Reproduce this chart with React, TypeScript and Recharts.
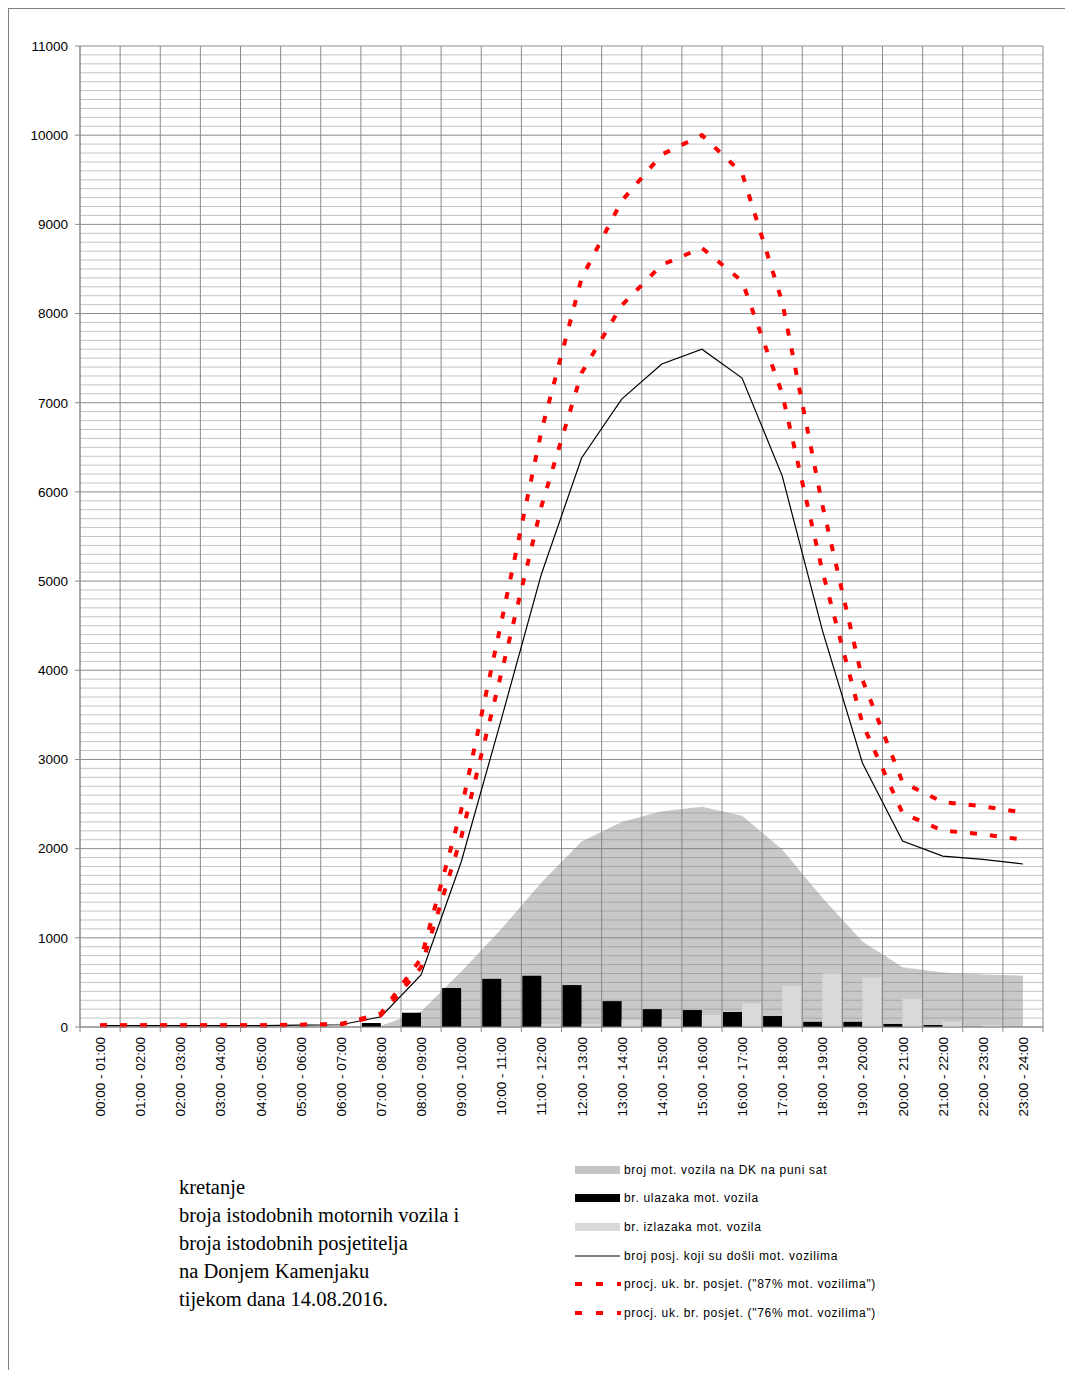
import {
  Area,
  Bar,
  CartesianGrid,
  ComposedChart,
  Line,
  XAxis,
  YAxis,
} from 'recharts'

const hours = [
  '00:00 - 01:00', '01:00 - 02:00', '02:00 - 03:00', '03:00 - 04:00',
  '04:00 - 05:00', '05:00 - 06:00', '06:00 - 07:00', '07:00 - 08:00',
  '08:00 - 09:00', '09:00 - 10:00', '10:00 - 11:00', '11:00 - 12:00',
  '12:00 - 13:00', '13:00 - 14:00', '14:00 - 15:00', '15:00 - 16:00',
  '16:00 - 17:00', '17:00 - 18:00', '18:00 - 19:00', '19:00 - 20:00',
  '20:00 - 21:00', '21:00 - 22:00', '22:00 - 23:00', '23:00 - 24:00',
]

// broj mot. vozila na DK na puni sat
const vehiclesOnSite = [0, 0, 0, 0, 0, 0, 0, 15, 175, 620, 1100, 1620, 2080, 2300, 2420, 2470, 2370, 1990, 1450, 960, 670, 610, 590, 575]
// br. ulazaka mot. vozila
const entries = [0, 0, 0, 0, 0, 0, 0, 45, 160, 437, 540, 575, 470, 290, 200, 190, 168, 123, 58, 58, 34, 22, 0, 0]
// br. izlazaka mot. vozila
const exits = [0, 0, 0, 0, 0, 0, 0, 0, 0, 0, 5, 35, 35, 80, 90, 135, 270, 460, 600, 555, 315, 60, 20, 0]
// broj posj. koji su došli mot. vozilima
const visitorsByCar = [15, 15, 15, 15, 15, 20, 25, 115, 583, 1850, 3450, 5080, 6380, 7040, 7435, 7600, 7277, 6180, 4450, 2960, 2085, 1917, 1880, 1828]
// procj. uk. br. posjet. ("87% mot. vozilima")
const estimate87 = [17, 17, 17, 17, 17, 23, 29, 132, 670, 2126, 3966, 5839, 7333, 8092, 8546, 8736, 8364, 7103, 5115, 3402, 2397, 2203, 2161, 2101]
// procj. uk. br. posjet. ("76% mot. vozilima")
const estimate76 = [20, 20, 20, 20, 20, 26, 33, 151, 767, 2434, 4539, 6684, 8395, 9263, 9783, 10000, 9575, 8132, 5855, 3895, 2743, 2522, 2474, 2405]

const yTicks = [0, 1000, 2000, 3000, 4000, 5000, 6000, 7000, 8000, 9000, 10000, 11000]
const Y_MAX = 11000
const MINOR_STEP = 100

const data = hours.map((cat, i) => ({
  cat,
  onSite: vehiclesOnSite[i],
  entries: entries[i],
  exits: exits[i],
  visitors: visitorsByCar[i],
  est87: estimate87[i],
  est76: estimate76[i],
}))

const minorValues: number[] = []
for (let v = MINOR_STEP; v < Y_MAX; v += MINOR_STEP) {
  if (v % 1000 !== 0) minorValues.push(v)
}

const W = 1057
const H = 1120
const M = { top: 38, right: 22, left: 12, bottom: 11 }
const Y_W = 60
const STEP = (W - M.left - M.right - Y_W) / hours.length

const GRID = '#8a8a8a'
const RED = '#ff0000'
const FONT = '"Liberation Sans", Arial, sans-serif'

function XTick(props: any) {
  const { x, y, payload, index } = props
  const last = index === hours.length - 1
  return (
    <g>
      <line x1={x - STEP / 2} x2={x - STEP / 2} y1={y} y2={y + 5} stroke={GRID} />
      {last && <line x1={x + STEP / 2} x2={x + STEP / 2} y1={y} y2={y + 5} stroke={GRID} />}
      <text
        transform={`translate(${x + 5},${y + 10}) rotate(-90)`}
        textAnchor="end"
        fontSize={13.5}
        fontFamily={FONT}
        fill="#000"
      >
        {payload.value}
      </text>
    </g>
  )
}

const legendRows = [
  { label: 'broj mot. vozila na DK na puni sat', kind: 'box', color: '#c4c4c4' },
  { label: 'br. ulazaka mot. vozila', kind: 'box', color: '#000000' },
  { label: 'br. izlazaka mot. vozila', kind: 'box', color: '#d9d9d9' },
  { label: 'broj posj. koji su došli mot. vozilima', kind: 'line', color: '#000000' },
  { label: 'procj. uk. br. posjet. ("87% mot. vozilima")', kind: 'dash', color: RED },
  { label: 'procj. uk. br. posjet. ("76% mot. vozilima")', kind: 'dash', color: RED },
]
const legendY = [1162, 1190, 1219, 1248, 1276, 1305]

function Swatch({ kind, color }: { kind: string; color: string }) {
  return (
    <svg width={46} height={10} style={{ display: 'block', marginRight: 3 }}>
      {kind === 'box' && <rect x={0} y={1} width={45} height={8} fill={color} />}
      {kind === 'line' && <line x1={0} x2={45} y1={5} y2={5} stroke={color} strokeWidth={1.2} />}
      {kind === 'dash' && (
        <line x1={0} x2={46} y1={5} y2={5} stroke={color} strokeWidth={4} strokeDasharray="7 14" />
      )}
    </svg>
  )
}

export default function App() {
  return (
    <div style={{ position: 'relative', width: W, height: 1362, fontFamily: FONT }}>
      {/* frame of the chart sheet: only top and left edges are visible */}
      <div
        style={{
          position: 'absolute',
          left: 0,
          top: 0,
          width: 1064,
          height: 1369,
          borderTop: '1px solid #808080',
          borderLeft: '1px solid #808080',
        }}
      />
      <div style={{ position: 'absolute', left: 0, top: 0 }}>
        <ComposedChart width={W} height={H} data={data} margin={M} barCategoryGap={1} barGap={0}>
          <CartesianGrid
            vertical={false}
            stroke="#c4c4c4"
            horizontalCoordinatesGenerator={({ offset }: any) =>
              minorValues.map((v) => offset.top + offset.height * (1 - v / Y_MAX))
            }
          />
          <CartesianGrid
            stroke={GRID}
            verticalCoordinatesGenerator={({ offset }: any) =>
              Array.from({ length: hours.length + 1 }, (_, i) => offset.left + (i * offset.width) / hours.length)
            }
          />
          <XAxis
            dataKey="cat"
            interval={0}
            tickLine={false}
            tickSize={0}
            tickMargin={0}
            axisLine={{ stroke: GRID }}
            height={90}
            tick={<XTick />}
          />
          <YAxis
            width={Y_W}
            domain={[0, Y_MAX]}
            ticks={yTicks}
            interval={0}
            tickSize={5}
            tickMargin={7}
            tickLine={{ stroke: GRID }}
            axisLine={{ stroke: GRID }}
            tick={{ fill: '#000', fontSize: 13.5, fontFamily: FONT }}
          />
          <Area
            type="linear"
            dataKey="onSite"
            stroke="none"
            fill="#808080"
            fillOpacity={0.43}
            isAnimationActive={false}
          />
          <Bar dataKey="entries" fill="#000000" isAnimationActive={false} />
          <Bar dataKey="exits" fill="#d9d9d9" isAnimationActive={false} />
          <Line
            type="linear"
            dataKey="visitors"
            stroke="#000"
            strokeWidth={1.2}
            dot={false}
            isAnimationActive={false}
          />
          <Line
            type="linear"
            dataKey="est87"
            stroke={RED}
            strokeWidth={4}
            strokeDasharray="7 13"
            dot={false}
            isAnimationActive={false}
          />
          <Line
            type="linear"
            dataKey="est76"
            stroke={RED}
            strokeWidth={4}
            strokeDasharray="7 13"
            dot={false}
            isAnimationActive={false}
          />
        </ComposedChart>
      </div>
      <div
        style={{
          position: 'absolute',
          left: 171,
          top: 1165,
          fontFamily: '"Liberation Serif", "Times New Roman", serif',
          fontSize: 20.5,
          lineHeight: '28px',
          color: '#000',
          whiteSpace: 'nowrap',
        }}
      >
        <div>kretanje</div>
        <div>broja istodobnih motornih vozila i</div>
        <div>broja istodobnih posjetitelja</div>
        <div>na Donjem Kamenjaku</div>
        <div>tijekom dana 14.08.2016.</div>
      </div>
      {legendRows.map((r, i) => (
        <div
          key={r.label}
          style={{
            position: 'absolute',
            left: 567,
            top: legendY[i] - 8,
            height: 16,
            display: 'flex',
            alignItems: 'center',
            fontSize: 12,
            letterSpacing: 0.7,
            whiteSpace: 'nowrap',
            color: '#000',
          }}
        >
          <Swatch kind={r.kind} color={r.color} />
          <span>{r.label}</span>
        </div>
      ))}
    </div>
  )
}
